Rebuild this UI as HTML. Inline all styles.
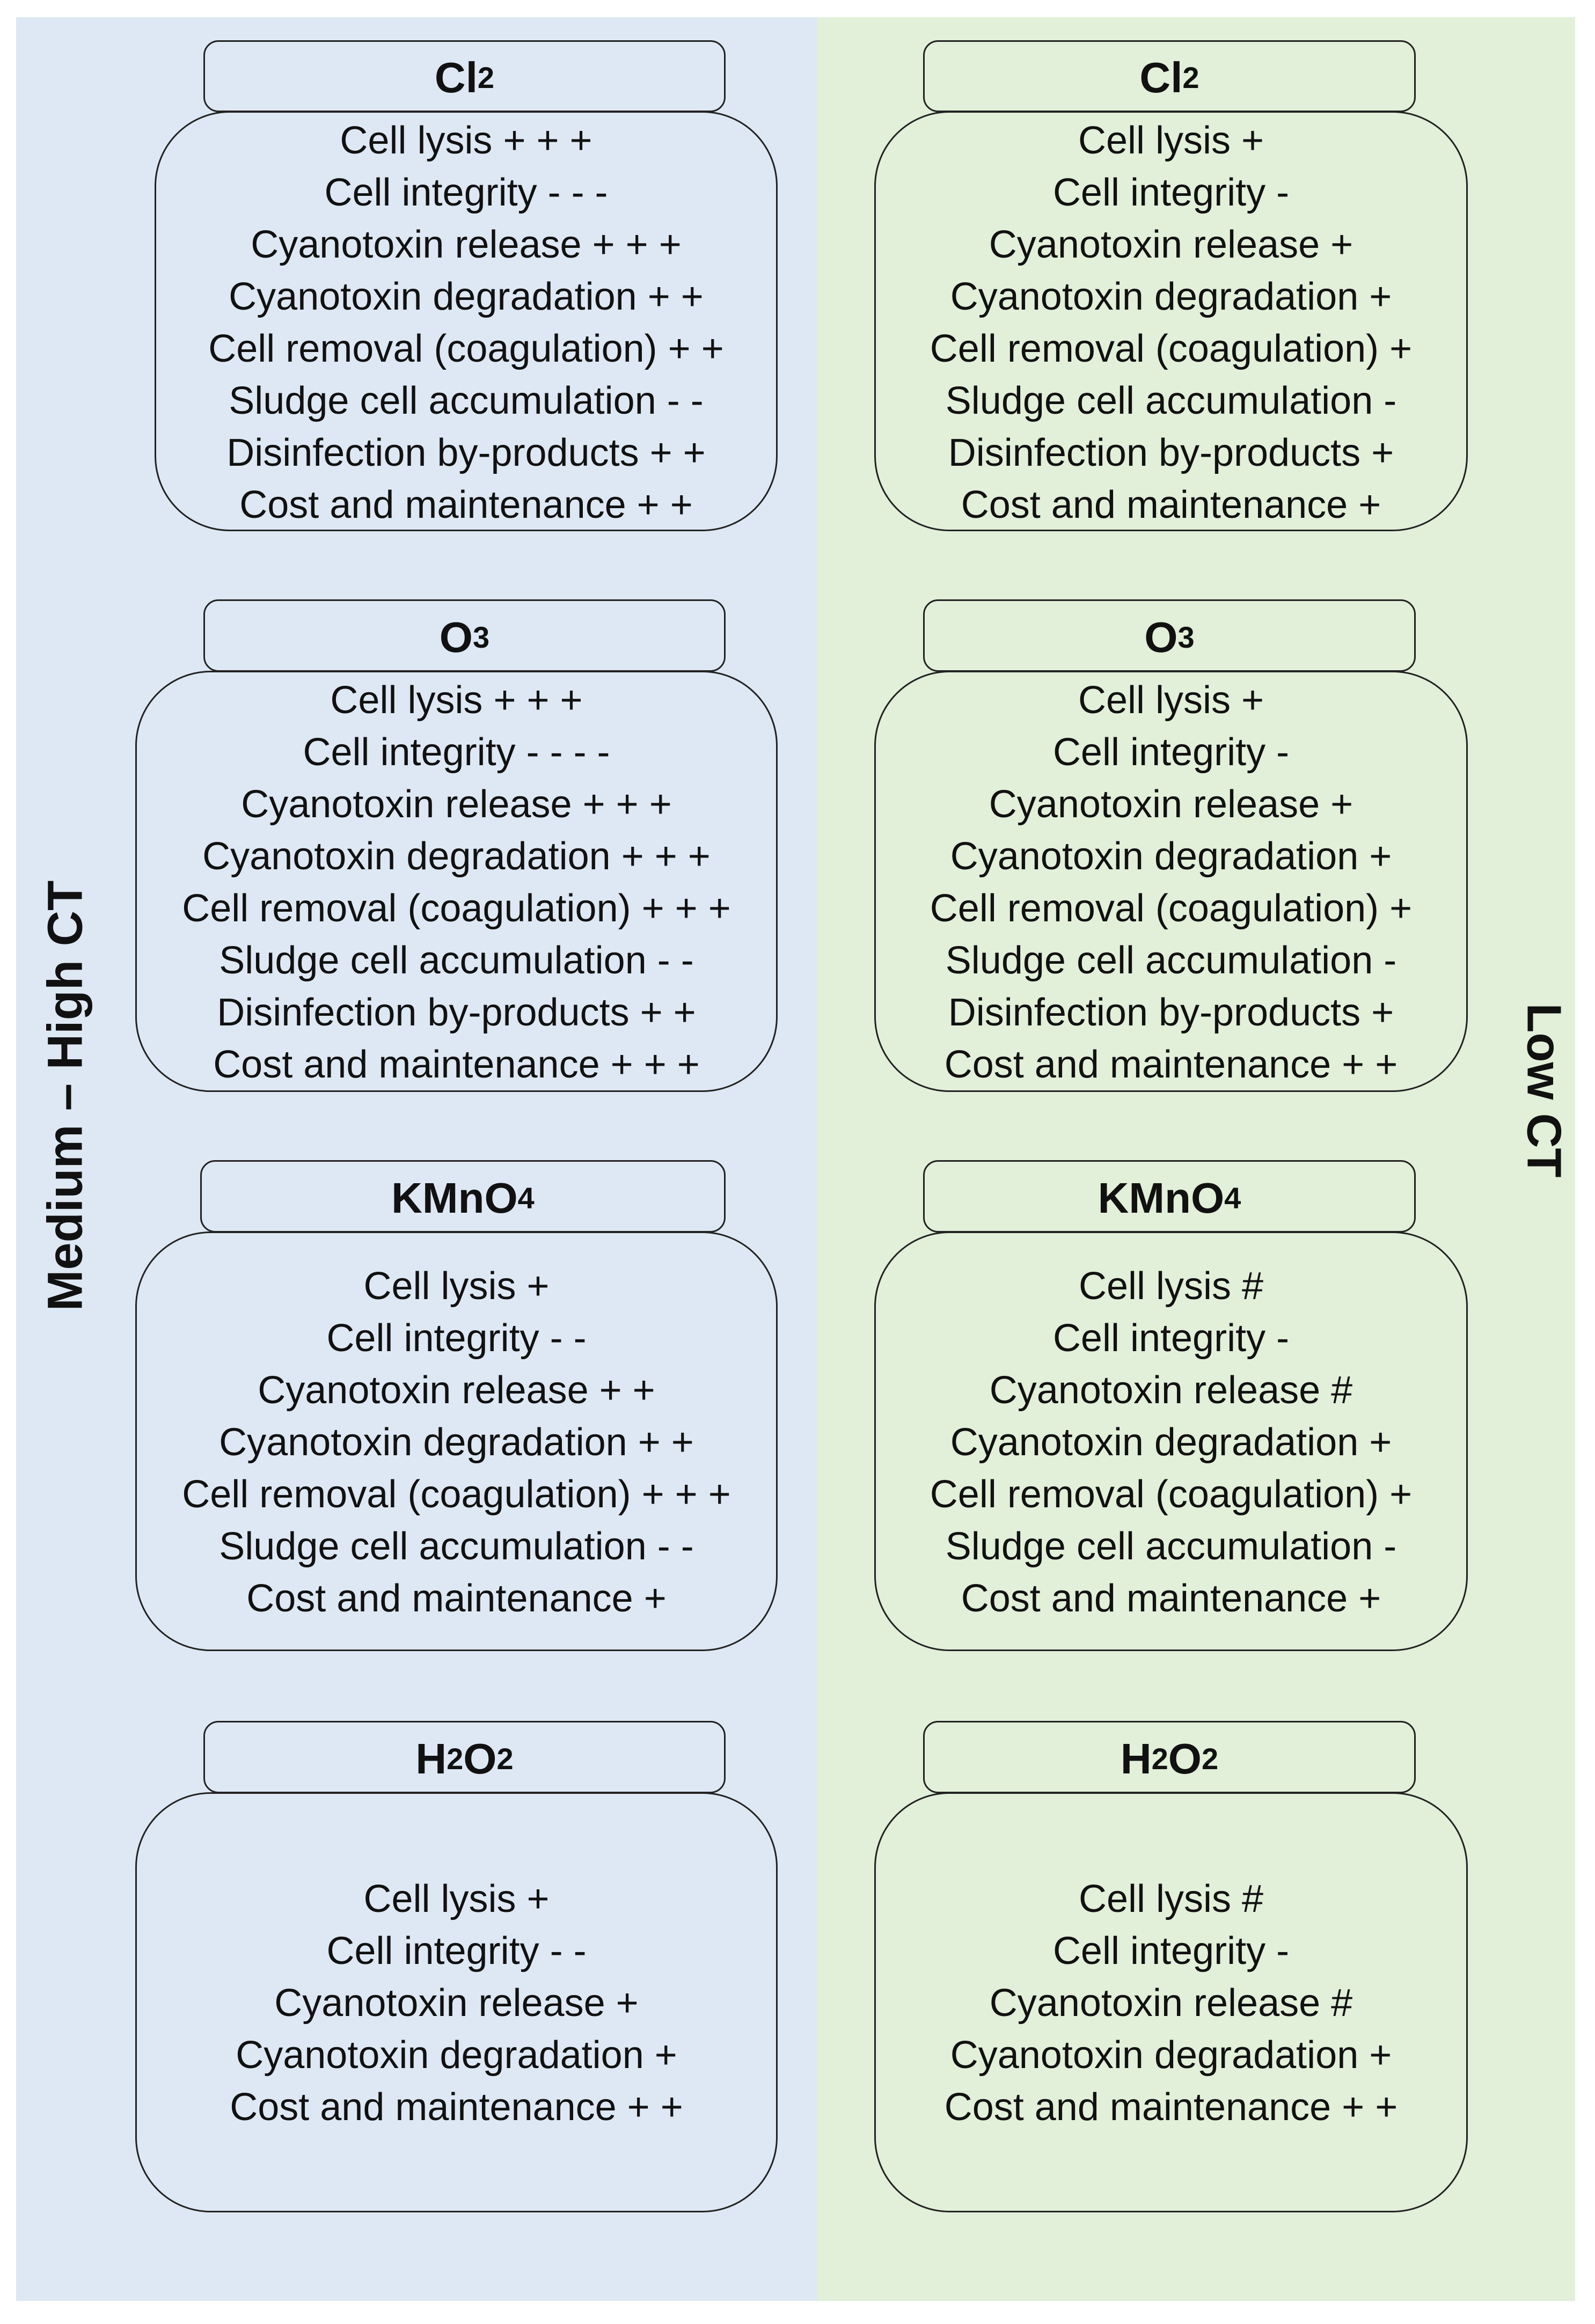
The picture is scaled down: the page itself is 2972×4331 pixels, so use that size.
<!DOCTYPE html>
<html><head><meta charset="utf-8"><style>
html,body{margin:0;padding:0;background:#fff;}
body{width:2972px;height:4331px;position:relative;overflow:hidden;font-family:"Liberation Sans",sans-serif;color:#111;}
.p{position:absolute;}
.hd{position:absolute;border:3px solid #222;border-radius:28px;box-sizing:border-box;display:flex;align-items:center;justify-content:center;font-weight:bold;font-size:80px;padding-top:6px;}
.hd sub{font-size:56px;vertical-align:-18px;line-height:0;}
.bd{position:absolute;border:3px solid #222;border-radius:140px;box-sizing:border-box;}
.tx{position:absolute;text-align:center;font-size:72px;line-height:97px;white-space:nowrap;}
.vt{position:absolute;font-weight:bold;white-space:nowrap;}
</style></head><body>
<div class="p" style="left:30px;top:32px;width:1493px;height:4256px;background:#dee8f4;"></div>
<div class="p" style="left:1523px;top:32px;width:1412px;height:4256px;background:#e2efd9;"></div>

<div class="vt" style="left:122px;top:2042px;font-size:92px;transform:translate(-50%,-50%) rotate(-90deg);">Medium – High CT</div>
<div class="vt" style="left:2876px;top:2032px;font-size:90px;transform:translate(-50%,-50%) rotate(90deg);">Low CT</div>

<!-- Left column -->
<div class="bd" style="left:288px;top:207px;width:1161px;height:783px;"></div>
<div class="hd" style="left:379px;top:75px;width:973px;height:134px;">Cl<sub>2</sub></div>
<div class="tx" style="left:288px;width:1161px;top:214px;">Cell lysis + + +<br>Cell integrity - - -<br>Cyanotoxin release + + +<br>Cyanotoxin degradation + +<br>Cell removal (coagulation) + +<br>Sludge cell accumulation - -<br>Disinfection by-products + +<br>Cost and maintenance + +</div>

<div class="bd" style="left:252px;top:1250px;width:1197px;height:785px;"></div>
<div class="hd" style="left:379px;top:1117px;width:973px;height:135px;">O<sub>3</sub></div>
<div class="tx" style="left:252px;width:1197px;top:1257px;">Cell lysis + + +<br>Cell integrity - - - -<br>Cyanotoxin release + + +<br>Cyanotoxin degradation + + +<br>Cell removal (coagulation) + + +<br>Sludge cell accumulation - -<br>Disinfection by-products + +<br>Cost and maintenance + + +</div>

<div class="bd" style="left:252px;top:2295px;width:1197px;height:782px;"></div>
<div class="hd" style="left:373px;top:2162px;width:979px;height:135px;">KMnO<sub>4</sub></div>
<div class="tx" style="left:252px;width:1197px;top:2349px;">Cell lysis +<br>Cell integrity - -<br>Cyanotoxin release + +<br>Cyanotoxin degradation + +<br>Cell removal (coagulation) + + +<br>Sludge cell accumulation - -<br>Cost and maintenance +</div>

<div class="bd" style="left:252px;top:3340px;width:1197px;height:783px;"></div>
<div class="hd" style="left:379px;top:3207px;width:973px;height:135px;">H<sub>2</sub>O<sub>2</sub></div>
<div class="tx" style="left:252px;width:1197px;top:3491px;">Cell lysis +<br>Cell integrity - -<br>Cyanotoxin release +<br>Cyanotoxin degradation +<br>Cost and maintenance + +</div>

<!-- Right column -->
<div class="bd" style="left:1629px;top:207px;width:1106px;height:783px;"></div>
<div class="hd" style="left:1720px;top:75px;width:918px;height:134px;">Cl<sub>2</sub></div>
<div class="tx" style="left:1629px;width:1106px;top:214px;">Cell lysis +<br>Cell integrity -<br>Cyanotoxin release +<br>Cyanotoxin degradation +<br>Cell removal (coagulation) +<br>Sludge cell accumulation -<br>Disinfection by-products +<br>Cost and maintenance +</div>

<div class="bd" style="left:1629px;top:1250px;width:1106px;height:785px;"></div>
<div class="hd" style="left:1720px;top:1117px;width:918px;height:135px;">O<sub>3</sub></div>
<div class="tx" style="left:1629px;width:1106px;top:1257px;">Cell lysis +<br>Cell integrity -<br>Cyanotoxin release +<br>Cyanotoxin degradation +<br>Cell removal (coagulation) +<br>Sludge cell accumulation -<br>Disinfection by-products +<br>Cost and maintenance + +</div>

<div class="bd" style="left:1629px;top:2295px;width:1106px;height:782px;"></div>
<div class="hd" style="left:1720px;top:2162px;width:918px;height:135px;">KMnO<sub>4</sub></div>
<div class="tx" style="left:1629px;width:1106px;top:2349px;">Cell lysis #<br>Cell integrity -<br>Cyanotoxin release #<br>Cyanotoxin degradation +<br>Cell removal (coagulation) +<br>Sludge cell accumulation -<br>Cost and maintenance +</div>

<div class="bd" style="left:1629px;top:3340px;width:1106px;height:783px;"></div>
<div class="hd" style="left:1720px;top:3207px;width:918px;height:135px;">H<sub>2</sub>O<sub>2</sub></div>
<div class="tx" style="left:1629px;width:1106px;top:3491px;">Cell lysis #<br>Cell integrity -<br>Cyanotoxin release #<br>Cyanotoxin degradation +<br>Cost and maintenance + +</div>
</body></html>
